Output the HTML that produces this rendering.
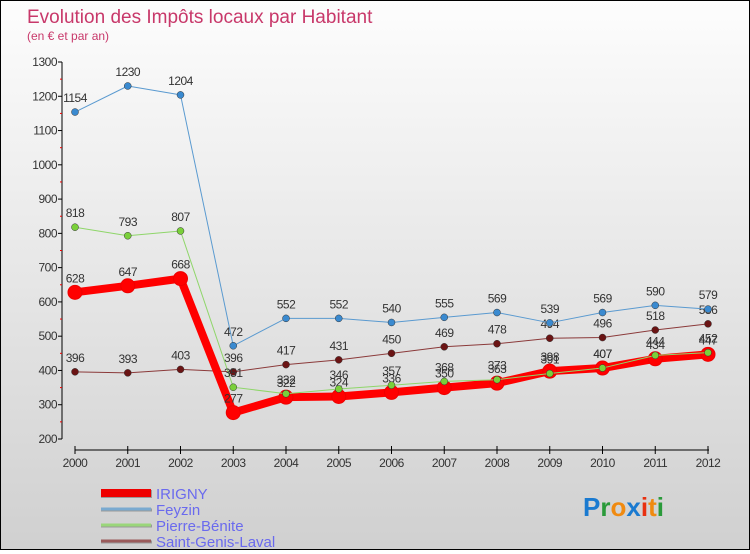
<!DOCTYPE html>
<html><head><meta charset="utf-8"><style>
body{margin:0;width:750px;height:550px;overflow:hidden;font-family:"Liberation Sans",sans-serif}
#wrap{position:relative;width:748px;height:548px;border:1px solid #000;background:linear-gradient(#fdfdfd,#d0d0d0)}
</style></head><body>
<div id="wrap">
<svg id="chart" width="748" height="548"></svg>
</div>
<script>
const years=[2000,2001,2002,2003,2004,2005,2006,2007,2008,2009,2010,2011,2012];
const irigny=[628,647,668,277,322,324,336,350,363,398,407,434,447];
const feyzin=[1154,1230,1204,472,552,552,540,555,569,539,569,590,579];
const pierreBenite=[818,793,807,351,332,346,357,368,373,391,407,444,452];
const saintGenis=[396,393,403,396,417,431,450,469,478,494,496,518,536];
const yTicks=[200,300,400,500,600,700,800,900,1000,1100,1200,1300];
const NS="http://www.w3.org/2000/svg";
const svg=document.getElementById('chart');
const x=i=>74+i*52.75, y=v=>438-(v-200)*377/1100;
function el(t,a,p){const e=document.createElementNS(NS,t);for(const k in a)e.setAttribute(k,a[k]);(p||svg).appendChild(e);return e;}
function tx(s,a){const e=el('text',a);e.textContent=s;return e;}
let t=tx('Evolution des Impôts locaux par Habitant',{x:26,y:22,'font-size':19,fill:'#c8386a'});


t=tx('(en € et par an)',{x:26,y:39,'font-size':12,fill:'#c8386a'});


// axes
let ax=el('line',{x1:61,y1:61,x2:61,y2:438,stroke:'#000'});


yTicks.forEach(v=>{el('line',{x1:57,x2:61,y1:y(v),y2:y(v),stroke:'#000'});
 if(v<1300)el('line',{x1:59,x2:61,y1:y(v+50),y2:y(v+50),stroke:'#e00'});
 const l=tx(v,{x:56,y:y(v)+4,'font-size':12,'text-anchor':'end',fill:'#333','letter-spacing':'-0.5'});
 
 });
ax=el('line',{x1:74,y1:449,x2:708,y2:449,stroke:'#000'});


years.forEach((yr,i)=>{el('line',{x1:x(i),x2:x(i),y1:445,y2:453,stroke:'#000'});
 const l=tx(yr,{x:x(i),y:466,'font-size':12,'text-anchor':'middle',fill:'#333','letter-spacing':'-0.5'});
 
 });
function series(d,col,dot,w,r,name){
 const g=el('g',{});
 
 
 el('polyline',{points:d.map((v,i)=>x(i)+','+y(v)).join(' '),fill:'none',stroke:col,'stroke-width':w,'stroke-linejoin':'round'},g);
 d.forEach((v,i)=>{const c=el('circle',{cx:x(i),cy:y(v),r:r,fill:dot,stroke:w>3?'#e00':'#333','stroke-width':w>3?1:0.5},g);
  
  
  const l=tx(v,{x:x(i),y:y(v)-10,'font-size':12,'text-anchor':'middle',fill:'#333','letter-spacing':'-0.5'},g);
  
  
  g.appendChild(l);});
}
series(saintGenis,'#8b3a3a','#6b1414',1,3.5,'saint-genis-laval');
series(feyzin,'#5a9ad0','#3a8ad0',1,3.5,'feyzin');
series(irigny,'#f00','#f00',8,7,'irigny');
series(pierreBenite,'#8fd66a','#7ad03a',1,3.5,'pierre-benite');
// legend
const leg=[['IRIGNY','#e00',8],['Feyzin','#7aaad0',3],['Pierre-Bénite','#9ad67a',3],['Saint-Genis-Laval','#9a5a5a',3]];
leg.forEach((L,i)=>{const yy=492+i*16;
 const g=el('g',{});
 
 
 el('line',{x1:100,x2:151,y1:yy+1,y2:yy+1,stroke:'#999','stroke-width':L[2]},g);
 el('line',{x1:100,x2:150,y1:yy,y2:yy,stroke:L[1],'stroke-width':L[2]},g);
 const l=tx(L[0],{x:155,y:yy+6,'font-size':15,fill:'#6a6aee'},g);g.appendChild(l);});
// logo
const lg=el('text',{x:582,y:515,'font-size':26,'font-weight':'bold'});


[['P','#1a7ad0'],['r','#2a9a3a'],['o','#f08a10'],['x','#1a7ad0'],['i','#e83010'],['t','#f08a10'],['i','#2a9a3a']].forEach(c=>{const s=el('tspan',{fill:c[1]},lg);s.textContent=c[0];});
</script>
</body></html>
